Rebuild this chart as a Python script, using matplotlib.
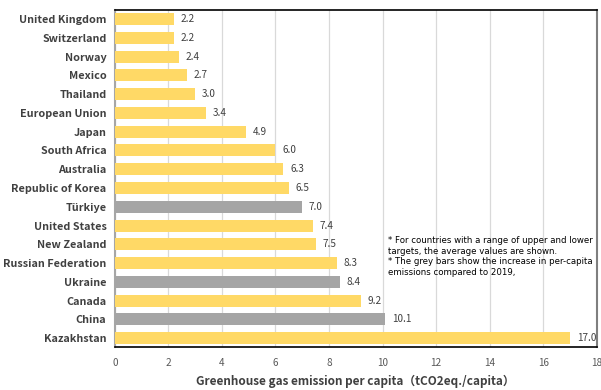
import matplotlib
matplotlib.use("Agg")
import matplotlib.pyplot as plt

countries = ["United Kingdom", "Switzerland", "Norway", "Mexico", "Thailand",
             "European Union", "Japan", "South Africa", "Australia",
             "Republic of Korea", "Türkiye", "United States", "New Zealand",
             "Russian Federation", "Ukraine", "Canada", "China", "Kazakhstan"]
values = [2.2, 2.2, 2.4, 2.7, 3.0, 3.4, 4.9, 6.0, 6.3, 6.5, 7.0, 7.4, 7.5,
          8.3, 8.4, 9.2, 10.1, 17.0]
increase = [False] * 10 + [True] + [False] * 3 + [True] + [False] + [True] + [False]
x_ticks = [0, 2, 4, 6, 8, 10, 12, 14, 16, 18]

YELLOW = "#FFD966"
GREY = "#A5A5A5"
TEXT = "#404040"

plt.rcParams["font.family"] = ["Noto Sans CJK JP", "DejaVu Sans"]

fig = plt.figure(figsize=(6.01, 3.90), dpi=100)
ax = fig.add_axes([0.191, 0.110, 0.802, 0.864])

ypos = list(range(len(countries)))
colors = [GREY if g else YELLOW for g in increase]
bars = ax.barh(ypos, values, height=0.64, color=colors, zorder=3)

for b, v in zip(bars, values):
    ax.text(b.get_width() + 0.25, b.get_y() + b.get_height() / 2, f"{v:.1f}",
            va="center", ha="left", fontsize=7.2, color=TEXT, zorder=4)

ax.set_ylim(len(countries) - 0.52, -0.48)
ax.set_xlim(0, 18)
ax.set_yticks(ypos)
ax.set_yticklabels(countries, fontsize=7.8, fontweight="bold", color=TEXT)
ax.set_xticks(x_ticks)
ax.set_xticklabels([str(t) for t in x_ticks], fontsize=7.2, color="#595959")
ax.tick_params(axis="both", length=0)
ax.tick_params(axis="x", pad=8)
ax.tick_params(axis="y", pad=6)

ax.grid(axis="x", color="#D9D9D9", linewidth=0.9, zorder=0)
ax.set_axisbelow(True)

for side in ["top", "bottom"]:
    ax.spines[side].set_color("black")
    ax.spines[side].set_linewidth(1.2)
ax.spines["left"].set_color("#A6A6A6")
ax.spines["left"].set_linewidth(1.5)
ax.spines["right"].set_color("#7F7F7F")
ax.spines["right"].set_linewidth(1.5)

ax.set_xlabel("Greenhouse gas emission per capita（tCO2eq./capita）",
              fontsize=8.5, fontweight="bold", color=TEXT, labelpad=5)

note = ("* For countries with a range of upper and lower\n"
        "targets, the average values are shown.\n"
        "* The grey bars show the increase in per-capita\n"
        "emissions compared to 2019,")
fig.text(388 / 601, 1 - 236 / 390, note, fontsize=6.2, color="black",
         va="top", ha="left", linespacing=1.25, family=["DejaVu Sans"])

fig.savefig("out.png", dpi=100)
